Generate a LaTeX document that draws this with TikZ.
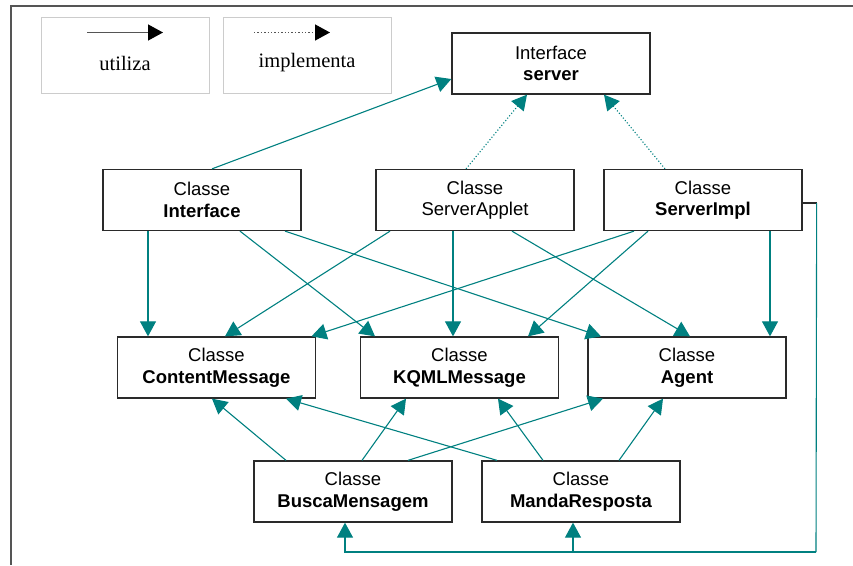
\documentclass[tikz,border=0pt]{standalone}
\usepackage{fontspec}
\setmainfont{Liberation Serif}
\setsansfont{Liberation Sans}
\usetikzlibrary{arrows.meta}
\definecolor{tealc}{HTML}{008080}
\definecolor{boxc}{HTML}{2A2A2A}
\definecolor{legc}{HTML}{CCCCCC}
\definecolor{framec}{HTML}{555555}
\tikzset{
  classbox/.style={draw=boxc, line width=1.3pt, rectangle, minimum width=198pt, minimum height=61pt,
    inner sep=0pt, align=center, font=\sffamily\fontsize{18.5}{21.5}\selectfont},
  legbox/.style={draw=legc, line width=0.9pt, rectangle, minimum width=168pt, minimum height=76pt, inner sep=0pt},
  legtext/.style={font=\fontsize{20.5}{24}\selectfont, inner sep=0pt},
  conn/.style={draw=tealc, line width=1.1pt, -{Triangle[length=15pt,width=16pt]}},
  impl/.style={conn, dotted},
  plainconn/.style={draw=tealc, line width=1.1pt},
  legarrow/.style={draw=framec, line width=1.4pt, -{Triangle[length=15pt,width=16pt,color=black,fill=black]}},
  framel/.style={draw=framec, line width=1.4pt}
}
\begin{document}
\begin{tikzpicture}[x=1pt,y=-1pt]
\useasboundingbox (0,0) rectangle (853,565);
\draw[framel] (853,6) -- (11,6) -- (11,565);

% legend
\node[legbox] (leg1) at (125,55) {};
\node[legbox] (leg2) at (307,55) {};
\node[legtext] (utl) at (125,63) {utiliza};
\node[legtext] (imp) at (307,63) {implementa};
\coordinate (la1) at (87,32.5);
\coordinate (la2) at (163,32.5);
\coordinate (lb1) at (254,32.5);
\coordinate (lb2) at (330,32.5);
\draw[legarrow] (la1) -- (la2);
\draw[legarrow, dotted] (lb1) -- (lb2);

% nodes
\node[classbox] (server) at (551,63.5) {Interface\\\textbf{server}};
\node[classbox] (Interface) at (202,200) {Classe\\\textbf{Interface}};
\node[classbox] (ServerApplet) at (475,200) {Classe\\ServerApplet};
\node[classbox] (ServerImpl) at (703,200) {Classe\\\textbf{ServerImpl}};
\node[classbox] (Content) at (216.5,367.5) {Classe\\\textbf{ContentMessage}};
\node[classbox] (KQML) at (459.5,367.5) {Classe\\\textbf{KQMLMessage}};
\node[classbox] (Agent) at (687,367.5) {Classe\\\textbf{Agent}};
\node[classbox] (Busca) at (353,491.5) {Classe\\\textbf{BuscaMensagem}};
\node[classbox] (Manda) at (581,491.5) {Classe\\\textbf{MandaResposta}};

% top connections
\draw[conn] ([xshift=10pt]Interface.north) -- ([yshift=-15.5pt]server.west);
\draw[impl] ([xshift=-9pt]ServerApplet.north) -- ([xshift=-24pt]server.south);
\draw[impl] ([xshift=-38pt]ServerImpl.north) -- ([xshift=53pt]server.south);

% Interface
\draw[conn] ([xshift=-54pt]Interface.south) -- ([xshift=-54pt]Interface.south |- Content.north);
\draw[conn] ([xshift=38pt]Interface.south) -- ([xshift=-84.5pt]KQML.north);
\draw[conn] ([xshift=83pt]Interface.south) -- ([xshift=-86pt]Agent.north);

% ServerApplet
\draw[conn] ([xshift=-85pt]ServerApplet.south) -- ([xshift=8.5pt]Content.north);
\draw[conn] ([xshift=-22pt]ServerApplet.south) -- ([xshift=-22pt]ServerApplet.south |- KQML.north);
\draw[conn] ([xshift=37pt]ServerApplet.south) -- ([xshift=3pt]Agent.north);

% ServerImpl
\draw[conn] ([xshift=-69pt]ServerImpl.south) -- ([xshift=95pt]Content.north);
\draw[conn] ([xshift=-55pt]ServerImpl.south) -- ([xshift=68.5pt]KQML.north);
\draw[conn] ([xshift=67pt]ServerImpl.south) -- ([xshift=67pt]ServerImpl.south |- Agent.north);

% Busca
\draw[conn] ([xshift=-67pt]Busca.north) -- ([xshift=-4.5pt]Content.south);
\draw[conn] ([xshift=9pt]Busca.north) -- ([xshift=-53.5pt]KQML.south);
\draw[conn] ([xshift=55pt]Busca.north) -- ([xshift=-84pt]Agent.south);

% Manda
\draw[conn] ([xshift=-84pt]Manda.north) -- ([xshift=69.5pt]Content.south);
\draw[conn] ([xshift=-38pt]Manda.north) -- ([xshift=38.5pt]KQML.south);
\draw[conn] ([xshift=38pt]Manda.north) -- ([xshift=-24pt]Agent.south);

% ServerImpl loop to bottom
\draw[draw=boxc, line width=1.2pt] ([yshift=-3pt]ServerImpl.east) -- ++(14,0) coordinate (r1);
\coordinate (corner) at (816,552);
\draw[plainconn] (r1) -- (corner);
\draw[conn] (corner) -| ([xshift=-8pt]Busca.south);
\draw[conn] ([xshift=-8pt]Manda.south |- corner) -- ([xshift=-8pt]Manda.south);
\end{tikzpicture}
\end{document}
